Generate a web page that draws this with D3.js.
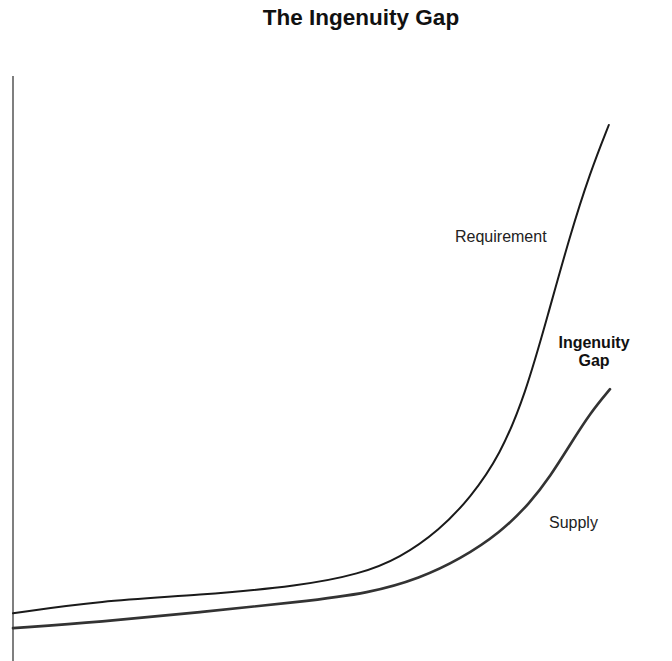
<!DOCTYPE html>
<html>
<head>
<meta charset="utf-8">
<script src="https://cdn.jsdelivr.net/npm/d3@7"></script>
<style>
  body { margin: 0; background: #fff; }
  svg { display: block; }
</style>
</head>
<body>
<div id="chart"></div>
<script>
// time (arbitrary units) and level for each curve
const requirementX = [0, 14.6, 31.3, 48.1, 58.1, 64.8, 71.5, 76.6, 81.6, 85.8, 89.6, 93.3, 96.7, 99.8];
const requirementY = [5.2, 7.6, 8.7, 10.5, 12.8, 15.9, 21.4, 27.6, 35.9, 47.6, 63.1, 78.6, 90.9, 100];
const supplyX = [0, 14.6, 31.3, 48.1, 59.8, 68.2, 74.9, 81.6, 86.6, 90.0, 93.3, 96.7, 100];
const supplyY = [2.3, 3.5, 5.4, 7.4, 9.1, 12.0, 15.7, 20.8, 26.6, 31.8, 37.9, 44.1, 48.7];

const width = 672, height = 661;

const svg = d3.select("#chart").append("svg")
    .attr("width", width)
    .attr("height", height);

const x = d3.scaleLinear().domain([0, 100]).range([13, 610]);
const y = d3.scaleLinear().domain([0, 100]).range([640, 125]);

const line = d3.line()
    .x(d => x(d[0]))
    .y(d => y(d[1]))
    .curve(d3.curveBasis);

// left axis, just a line with no ticks
svg.append("line")
    .attr("x1", 13).attr("x2", 13)
    .attr("y1", 76).attr("y2", height)
    .attr("stroke", "#555")
    .attr("stroke-width", 1.5);

svg.append("path")
    .datum(d3.zip(supplyX, supplyY))
    .attr("d", line)
    .attr("fill", "none")
    .attr("stroke", "#333")
    .attr("stroke-width", 2.6)
    .attr("stroke-linecap", "round");

svg.append("path")
    .datum(d3.zip(requirementX, requirementY))
    .attr("d", line)
    .attr("fill", "none")
    .attr("stroke", "#1a1a1a")
    .attr("stroke-width", 2)
    .attr("stroke-linecap", "round");

const font = "'Liberation Sans', Arial, sans-serif";

svg.append("text")
    .attr("x", 361).attr("y", 25)
    .attr("text-anchor", "middle")
    .attr("font-family", font)
    .attr("font-size", 22.5)
    .attr("font-weight", "bold")
    .attr("fill", "#111")
    .text("The Ingenuity Gap");

svg.append("text")
    .attr("x", 455).attr("y", 242)
    .attr("font-family", font)
    .attr("font-size", 16)
    .attr("fill", "#222")
    .text("Requirement");

svg.append("text")
    .attr("x", 549).attr("y", 528)
    .attr("font-family", font)
    .attr("font-size", 16)
    .attr("fill", "#222")
    .text("Supply");

const gap = svg.append("text")
    .attr("text-anchor", "middle")
    .attr("font-family", font)
    .attr("font-size", 16)
    .attr("font-weight", "bold")
    .attr("fill", "#111");
gap.append("tspan").attr("x", 594).attr("y", 348).text("Ingenuity");
gap.append("tspan").attr("x", 594).attr("y", 366).text("Gap");
</script>
</body>
</html>
